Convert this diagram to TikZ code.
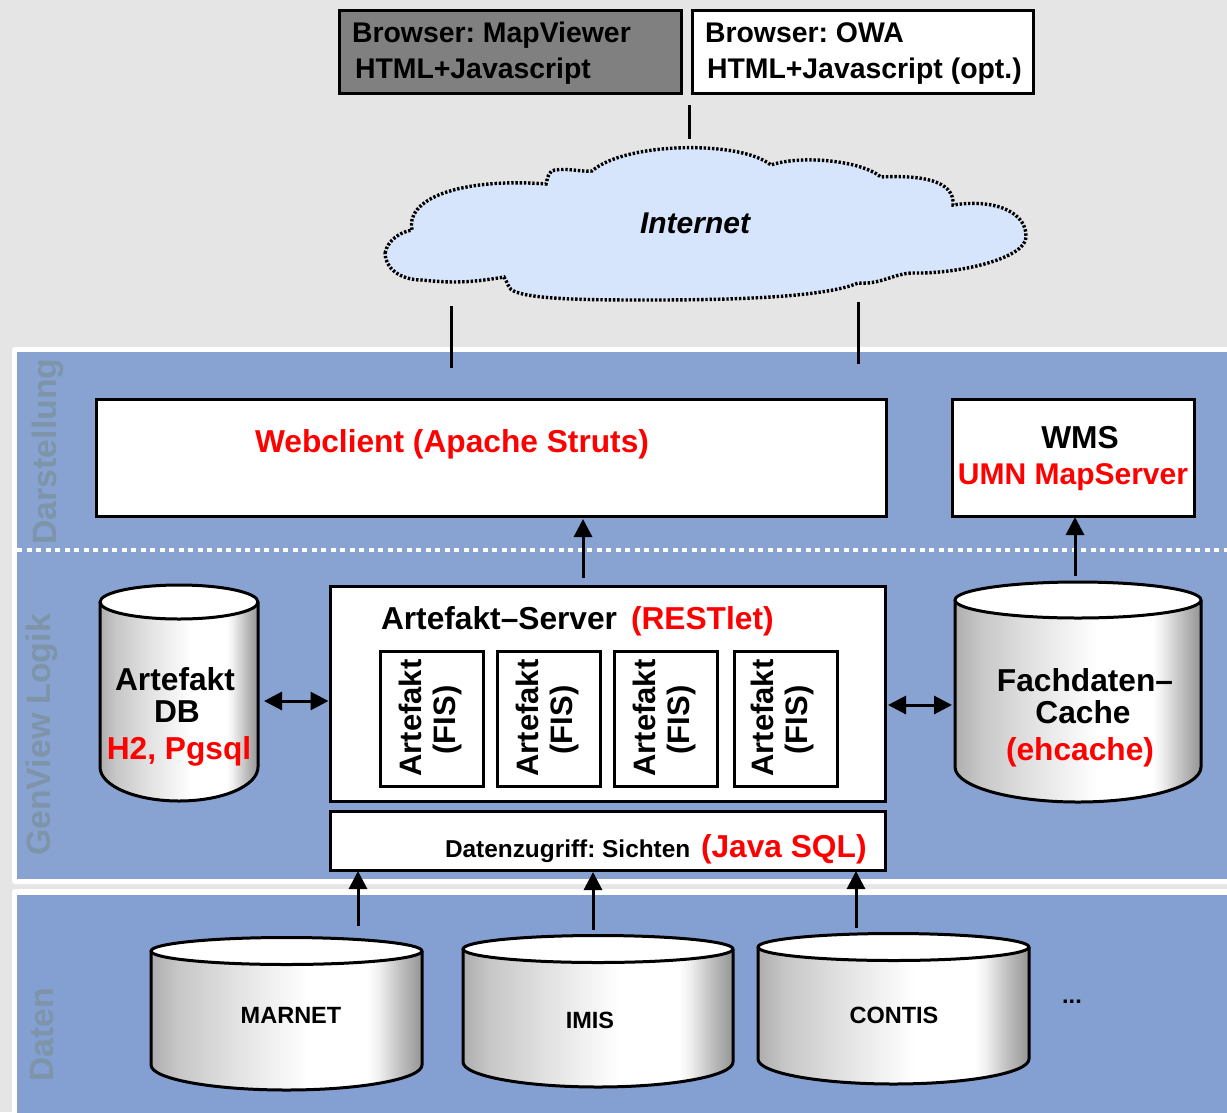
\documentclass[tikz,border=0pt]{standalone}
\usepackage{fontspec}
\setmainfont{Liberation Sans}
\usetikzlibrary{arrows.meta,calc}
\definecolor{pagebg}{HTML}{E5E5E5}
\definecolor{bluetop}{HTML}{88A3D2}
\definecolor{bluelow}{HTML}{84A0D2}
\definecolor{cloudfill}{HTML}{D6E5FC}
\definecolor{laygrey}{HTML}{7E94A9}
\definecolor{browsergrey}{HTML}{808080}
\pgfdeclarehorizontalshading{cylbody}{100bp}{
 color(0bp)=(black!32); color(25bp)=(black!32); color(30bp)=(black!22); color(40bp)=(black!12);
 color(54bp)=(white); color(65bp)=(white); color(67bp)=(black!6); color(71bp)=(black!25); color(75bp)=(black!42); color(100bp)=(black!42)}
\newcommand{\fs}[1]{\fontsize{#1}{#1}\selectfont}
\newcommand{\cyl}[7]{% name x0 x1 cy ry ys yb
 \pgfmathsetmacro{\cx}{(#2+#3)/2}
 \pgfmathsetmacro{\crx}{(#3-#2)/2}
 \pgfmathsetmacro{\cw}{#3-#2}
 \pgfmathsetmacro{\ch}{#7-#4+#5}
 \pgfmathsetmacro{\cmy}{(#7+#4-#5)/2}
 \pgfmathsetmacro{\cc}{.5523*\crx}
 \pgfmathsetmacro{\cyc}{#6+.5523*(#7-#6)}
 \pgfmathsetmacro{\eyu}{#4-.5523*#5}
 \pgfmathsetmacro{\eyd}{#4+.5523*#5}
 \shade[shading=cylbody] (#2,#4) -- (#2,#6) .. controls (#2,\cyc) and (\cx-\cc,#7) .. (\cx,#7) .. controls (\cx+\cc,#7) and (#3,\cyc) .. (#3,#6) -- (#3,#4) -- cycle;
 \draw[cylline] (#2,#4) -- (#2,#6) .. controls (#2,\cyc) and (\cx-\cc,#7) .. (\cx,#7) .. controls (\cx+\cc,#7) and (#3,\cyc) .. (#3,#6) -- (#3,#4);
 \draw[cylline,fill=white] (#2,#4) .. controls (#2,\eyu) and (\cx-\cc,#4-#5) .. (\cx,#4-#5) .. controls (\cx+\cc,#4-#5) and (#3,\eyu) .. (#3,#4) .. controls (#3,\eyd) and (\cx+\cc,#4+#5) .. (\cx,#4+#5) .. controls (\cx-\cc,#4+#5) and (#2,\eyd) .. cycle;
 \node[anchorbox,minimum width=\cw pt,minimum height=\ch pt] (#1) at (\cx,\cmy) {};
}
\tikzset{
 x=1pt,y=-1pt,
 box/.style={draw=black,line width=3pt,fill=white,inner sep=0pt,outer sep=0pt},
 artbox/.style={draw=black,line width=3pt,fill=white,inner sep=0pt,outer sep=0pt,minimum width=103pt,minimum height=135pt},
 anchorbox/.style={inner sep=0pt,outer sep=0pt},
 cylline/.style={draw=black,line width=3pt,line join=round},
 txt/.style={inner sep=0pt,outer sep=0pt,anchor=base,font=\bfseries\fs{31.7}},
 txtl/.style={txt,anchor=base west},
 rottxt/.style={inner sep=0pt,outer sep=0pt,anchor=base,rotate=90,font=\bfseries\fs{31}},
 layer/.style={inner sep=0pt,outer sep=0pt,anchor=center,rotate=90,text=laygrey,font=\bfseries\fs{33.8}},
 plain/.style={draw=black,line width=3pt},
 upar/.style={draw=black,line width=3pt,-{Triangle[length=18pt,width=18pt]}},
 dblar/.style={draw=black,line width=3pt,{Triangle[length=18pt,width=18pt]}-{Triangle[length=18pt,width=18pt]}},
}
\begin{document}
\frenchspacing
\begin{tikzpicture}
\clip (0,0) rectangle (1227,1112);
\fill[pagebg] (0,0) rectangle (1227,1112);
% layer panels
\fill[white,rounded corners=3pt] (12,347) rectangle (1260,884);
\fill[white,rounded corners=3pt] (12,889) rectangle (1260,1140);
\fill[bluetop] (17,352) rectangle (1260,879);
\fill[bluelow] (17,895) rectangle (1260,1140);
\coordinate (dl) at (17,550);
\coordinate (dr) at (1227,550);
\draw[white,line width=4pt,dash pattern=on 5pt off 4.5pt] (dl) -- (dr);
% layer titles
\node[layer] (l1) at (48,451.5) {Darstellung};
\node[layer] (l2) at (42,735) {GenView Logik};
\node[layer] (l3) at (42,1035) {Daten};
% browsers
\node[box,fill=browsergrey,minimum width=341.5pt,minimum height=82.5pt] (b1) at (510.25,51.75) {};
\node[box,minimum width=341pt,minimum height=82.5pt] (b2) at (862.5,51.75) {};
\node[txtl,font=\bfseries\fs{28.4}] (b1a) at (352,42) {Browser: MapViewer};
\node[txtl,font=\bfseries\fs{28.4}] (b1b) at (355,78) {HTML+Javascript};
\node[txtl,font=\bfseries\fs{28.4}] (b2a) at (705,42) {Browser: OWA};
\node[txtl,font=\bfseries\fs{28.4}] (b2b) at (707,78) {HTML+Javascript (opt.)};
% cloud
\draw[fill=cloudfill,draw=black,line width=3.4pt,dash pattern=on 2.4pt off 1.8pt]
 (385,253) .. controls (388,240) and (400,232) .. (412,230)
 .. controls (405,195) and (470,178) .. (546,184)
 .. controls (548,175) and (550,170) .. (555,170)
 .. controls (570,168) and (580,172) .. (592,171)
 .. controls (625,142) and (740,140) .. (771,165)
 .. controls (800,155) and (860,160) .. (881,177)
 .. controls (920,175) and (955,180) .. (953,205)
 .. controls (1000,198) and (1027,215) .. (1026,237)
 .. controls (1026,258) and (960,274) .. (913,273)
 .. controls (895,273) and (880,285) .. (858,283)
 .. controls (830,295) and (760,300) .. (651,300)
 .. controls (590,300) and (515,300) .. (509,287)
 .. controls (507,283) and (506,280) .. (504,277)
 .. controls (470,283) and (450,283) .. (422,280)
 .. controls (400,280) and (385,268) .. (385,253) -- cycle;
\node[anchorbox,minimum width=641pt,minimum height=152pt] (cloud) at (705.5,224) {};
\node[txt,font=\bfseries\itshape\fs{30}] (inet) at (695,233) {Internet};
% boxes
\node[box,minimum width=790.5pt,minimum height=117pt] (web) at (491.25,457.5) {};
\node[box,minimum width=242pt,minimum height=117pt] (wms) at (1073,457.5) {};
\node[box,minimum width=554.5pt,minimum height=215.5pt] (server) at (607.75,693.75) {};
\node[box,minimum width=555pt,minimum height=59pt] (data) at (607.5,840.5) {};
\node[artbox] (a1) at (432,718.5) {};
\node[artbox] (a2) at (548.5,718.5) {};
\node[artbox] (a3) at (666,718.5) {};
\node[artbox] (a4) at (786,718.5) {};
\foreach \n/\lx/\fx in {1/421/455,2/538/572,3/655/689,4/773/807}{
 \node[rottxt] (ta\n) at (\lx,718) {Artefakt};
 \node[rottxt] (tf\n) at (\fx,720) {(FIS)};
}
\node[txt,text=red] (webt) at (452,452) {Webclient (Apache Struts)};
\node[txt] (wmst) at (1080,448) {WMS};
\node[txt,text=red,font=\bfseries\fs{30}] (umn) at (1073,484) {UMN MapServer};
\node[txtl] (servt) at (381,629) {Artefakt--Server};
\node[txtl,text=red] (rest) at (631,629) {(RESTlet)};
\node[txtl,font=\bfseries\fs{24.4}] (datat) at (445,857) {Datenzugriff: Sichten};
\node[txtl,text=red] (java) at (701,857) {(Java SQL)};
% cylinders
\cyl{db}{100}{258}{602}{17}{767}{801}
\cyl{cache}{955}{1201}{600}{18}{767}{802}
\cyl{marnet}{151}{422}{951}{13.5}{1065}{1090}
\cyl{imis}{463}{733}{949}{13.5}{1062}{1087}
\cyl{contis}{758}{1029}{947}{13.5}{1059}{1084}
\node[txt] (dbt1) at (175,690) {Artefakt};
\node[txt] (dbt2) at (177,722) {DB};
\node[txt,text=red] (dbt3) at (179,759) {H2, Pgsql};
\node[txt] (ct1) at (1085,691) {Fachdaten--};
\node[txt] (ct2) at (1083,723) {Cache};
\node[txt,text=red] (ct3) at (1080,760) {(ehcache)};
\node[txt,font=\bfseries\fs{23.5}] (mt) at (291,1023) {MARNET};
\node[txt,font=\bfseries\fs{23.5}] (it) at (590,1028) {IMIS};
\node[txt,font=\bfseries\fs{23.5}] (ctt) at (894,1023) {CONTIS};
\node[txt,font=\bfseries\fs{23.5}] (dots) at (1072,1003) {...};
% connectors
\coordinate (xi) at (689,0);
\coordinate (xl) at (451,0);
\coordinate (xr) at (858,0);
\coordinate (xw) at (583,0);
\coordinate (xm) at (1075,0);
\coordinate (x1) at (358,0);
\coordinate (x2) at (593,0);
\coordinate (x3) at (856,0);
\coordinate (y1) at (0,701);
\coordinate (y2) at (0,705);
\draw[plain,shorten <=12pt,shorten >=9pt] (xi |- b1.south) -- (xi |- cloud.north);
\draw[plain,shorten <=6pt,shorten >=31pt] (xl |- cloud.south) -- (xl |- web.north);
\draw[plain,shorten <=2pt,shorten >=35pt] (xr |- cloud.south) -- (xr |- web.north);
\draw[upar,shorten <=8pt,shorten >=3pt] (xw |- server.north) -- (xw |- web.south);
\draw[upar,shorten <=6pt,shorten >=1pt] (xm |- cache.north) -- (xm |- wms.south);
\draw[dblar,shorten <=6pt,shorten >=2pt] (db.east |- y1) -- (server.west |- y1);
\draw[dblar,shorten <=3pt,shorten >=3pt] (server.east |- y2) -- (cache.west |- y2);
\draw[upar,shorten <=12pt,shorten >=1pt] (x1 |- marnet.north) -- (x1 |- data.south);
\draw[upar,shorten <=6pt,shorten >=2pt] (x2 |- imis.north) -- (x2 |- data.south);
\draw[upar,shorten <=6pt,shorten >=1pt] (x3 |- contis.north) -- (x3 |- data.south);
\end{tikzpicture}
\end{document}
